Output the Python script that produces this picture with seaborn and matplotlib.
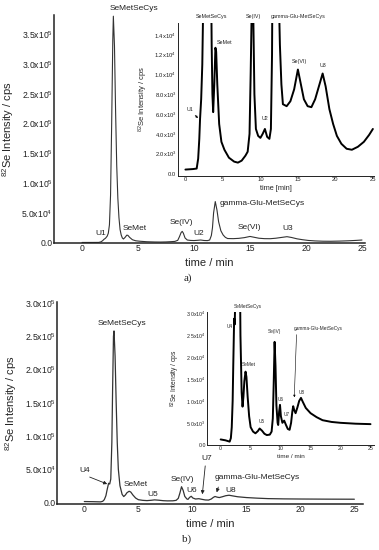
import matplotlib
matplotlib.use('Agg')
import matplotlib.pyplot as plt
import seaborn as sns

# chromatogram a) (time in min, 82Se intensity in cps)
time_a = [0.0, 1.0, 1.5, 1.7, 1.85, 1.95, 2.1, 2.25, 2.35, 2.45, 2.55, 2.65, 2.75, 2.8,
          2.9, 3.0, 3.1, 3.2, 3.3, 3.4, 3.5, 3.6, 3.7, 3.85, 4.0, 4.1, 4.25, 4.5, 4.8,
          5.2, 5.8, 6.5, 7.0, 7.5, 8.0, 8.3, 8.55, 8.7, 8.85, 8.95, 9.05, 9.2, 9.4, 9.7,
          10.0, 10.3, 10.6, 10.9, 11.2, 11.4, 11.55, 11.65, 11.75, 11.9, 12.05, 12.2,
          12.4, 12.6, 12.8, 13.0, 13.5, 14.0, 14.5, 15.0, 15.4, 15.8, 16.3, 16.8, 17.3,
          17.8, 18.3, 18.7, 19.2, 19.7, 20.2, 20.8, 21.5, 22.2, 23.0, 23.8, 24.5, 25.0]
cps_a = [400, 450, 500, 1500, 3500, 5500, 7500, 11000, 16000, 30000, 80000, 200000,
         340000, 380000, 330000, 220000, 130000, 75000, 42000, 22000, 13000, 8000, 6200,
         9000, 12700, 12300, 9000, 5000, 3200, 2400, 1600, 1200, 1100, 1300, 1800, 2200,
         4000, 10000, 17000, 19000, 16000, 8000, 4500, 3800, 3600, 4000, 4500, 3700,
         3500, 4500, 12000, 25000, 50000, 69000, 55000, 35000, 20000, 13000, 9000, 7000,
         6800, 7300, 8500, 10500, 9000, 7500, 6800, 6700, 7500, 8800, 10100, 8800, 6500,
         5000, 3800, 3000, 2500, 2400, 2700, 3200, 3900, 4500]

# chromatogram b)
time_b = [0.0, 0.8, 1.5, 1.7, 1.85, 2.0, 2.1, 2.25, 2.35, 2.45, 2.55, 2.62, 2.7, 2.75,
          2.85, 2.95, 3.05, 3.15, 3.3, 3.5, 3.65, 3.8, 3.95, 4.15, 4.3, 4.5, 4.75, 5.0,
          5.4, 5.8, 6.2, 6.5, 6.9, 7.3, 7.7, 8.2, 8.5, 8.7, 8.85, 9.0, 9.15, 9.3, 9.5,
          9.6, 9.75, 9.9, 10.05, 10.3, 10.6, 10.9, 11.2, 11.5, 11.75, 11.95, 12.1, 12.3,
          12.5, 12.8, 13.1, 13.4, 13.7, 14.2, 15.0, 16.0, 17.0, 18.5, 20.0, 22.5, 25.0]
cps_b = [1200, 1000, 700, 1500, 4000, 10000, 18000, 28800, 27500, 35000, 90000, 170000,
         250000, 258000, 220000, 150000, 90000, 50000, 25000, 12000, 8700, 11000, 14500,
         16700, 15500, 11000, 6500, 4000, 3000, 2600, 3100, 3700, 3200, 2500, 2200, 2300,
         3000, 6000, 14000, 23500, 18000, 9000, 5000, 4500, 7500, 9100, 6500, 5000, 5500,
         4500, 3600, 3400, 5000, 7500, 8800, 7800, 7200, 8500, 10000, 10700, 9800, 8400,
         7200, 6300, 5600, 5200, 5000, 4800, 4700]

time_ticks = [0, 5, 10, 15, 20, 25]
main_a_yticks = [0, 5e4, 1e5, 1.5e5, 2e5, 2.5e5, 3e5, 3.5e5]
main_a_ylabels = ['0.0', '5.0x10$^4$', '1.0x10$^5$', '1.5x10$^5$', '2.0x10$^5$',
                  '2.5x10$^5$', '3.0x10$^5$', '3.5x10$^5$']
inset_a_yticks = [0, 2e3, 4e3, 6e3, 8e3, 1e4, 1.2e4, 1.4e4]
inset_a_ylabels = ['0.0', '2.0x10$^3$', '4.0x10$^3$', '6.0x10$^3$', '8.0x10$^3$',
                   '1.0x10$^4$', '1.2x10$^4$', '1.4x10$^4$']
main_b_yticks = [0, 5e4, 1e5, 1.5e5, 2e5, 2.5e5, 3e5]
main_b_ylabels = ['0.0', '5.0x10$^4$', '1.0x10$^5$', '1.5x10$^5$', '2.0x10$^5$',
                  '2.5x10$^5$', '3.0x10$^5$']
inset_b_yticks = [0, 5e3, 1e4, 1.5e4, 2e4, 2.5e4, 3e4]
inset_b_ylabels = ['0.0', '5.0x10$^3$', '1.0x10$^4$', '1.5x10$^4$', '2.0x10$^4$',
                   '2.5x10$^4$', '3.0x10$^4$']

sns.set_style('white')
plt.rcParams['font.family'] = ['Liberation Sans', 'DejaVu Sans']
plt.rcParams['mathtext.fontset'] = 'custom'
plt.rcParams['mathtext.rm'] = 'Liberation Sans'
plt.rcParams['mathtext.it'] = 'Liberation Sans:italic'

W, H = 379, 550
fig = plt.figure(figsize=(W / 100, H / 100), dpi=100)


def box(l, t, r, b):
    return [l / W, 1 - b / H, (r - l) / W, (b - t) / H]


def style_axes(ax, lw, fs, yticks, ylabels, pad):
    for s in ['top', 'right']:
        ax.spines[s].set_visible(False)
    for s in ['left', 'bottom']:
        ax.spines[s].set_linewidth(lw)
        ax.spines[s].set_color('#222222')
    ax.set_facecolor('none')
    ax.set_xticks(time_ticks)
    ax.set_xticklabels([str(t) for t in time_ticks])
    ax.set_yticks(yticks)
    ax.set_yticklabels(ylabels)
    ax.tick_params(axis='both', direction='in', length=2, width=lw * 0.7,
                   labelsize=fs, pad=pad, colors='#222222')
    ax.grid(False)


ylab = '$^{82}$Se Intensity / cps'

# ---------------- panel a ----------------
ax_a = fig.add_axes(box(54, 15, 365, 243))
sns.lineplot(x=time_a, y=cps_a, ax=ax_a, estimator=None, color='#333333', linewidth=0.8)
ax_a.set_xlim(-2.5, 25.27)
ax_a.set_ylim(-500, 382000)
style_axes(ax_a, 1.1, 6.2, main_a_yticks, main_a_ylabels, 1)
ax_a.set_xlabel('time / min', fontsize=8, labelpad=3)
ax_a.set_ylabel(ylab, fontsize=8, labelpad=4)

for txt, x, y in [('SeMetSeCys', 4.66, 393000), ('U1', 1.7, 14600), ('SeMet', 4.69, 24000),
                  ('Se(IV)', 8.87, 34000), ('U2', 10.45, 14600),
                  ('gamma-Glu-MetSeCys', 16.07, 65000), ('Se(VI)', 14.96, 26000),
                  ('U3', 18.33, 24000)]:
    ax_a.text(x, y, txt, fontsize=6, ha='center', va='center', color='#222222')

fig.text(188 / W, 1 - 278 / H, 'a)', fontsize=8, family='Liberation Serif',
         ha='center', va='center')

ins_a = fig.add_axes(box(177.7, 23, 374, 175.5))
sns.lineplot(x=time_a, y=cps_a, ax=ins_a, estimator=None, color='black', linewidth=1.4)
ins_a.set_xlim(-1.03, 25.15)
ins_a.set_ylim(-200, 15200)
style_axes(ins_a, 0.7, 4.2, inset_a_yticks, inset_a_ylabels, 1)
ins_a.set_xlabel('time [min]', fontsize=5.3, labelpad=2)
ins_a.set_ylabel(ylab, fontsize=5.5, labelpad=3)
for txt, x, y in [('SeMetSeCys', 3.53, 15900), ('SeMet', 5.27, 13200),
                  ('Se(IV)', 9.13, 15900), ('gamma-Glu-MetSeCys', 15.04, 15900),
                  ('Se(VI)', 15.27, 11360), ('U3', 18.37, 10900), ('U2', 10.6, 5600),
                  ('U1', 0.6, 6500)]:
    ins_a.text(x, y, txt, fontsize=3.9, ha='center', va='center', clip_on=False)
ins_a.annotate('', xy=(1.93, 5400), xytext=(1.04, 6080),
               arrowprops=dict(arrowstyle='-|>', lw=0.5, color='black',
                               mutation_scale=3))

# ---------------- panel b ----------------
ax_b = fig.add_axes(box(57.3, 301.7, 363, 504))
sns.lineplot(x=time_b, y=cps_b, ax=ax_b, estimator=None, color='#333333', linewidth=0.9)
ax_b.set_xlim(-2.5, 25.8)
ax_b.set_ylim(-2500, 302000)
style_axes(ax_b, 1.1, 6.2, main_b_yticks, main_b_ylabels, 1)
ax_b.set_xlabel('time / min', fontsize=8, labelpad=3)
ax_b.set_ylabel(ylab, fontsize=8, labelpad=4)
for txt, x, y in [('SeMetSeCys', 3.5, 269600), ('U4', 0.05, 47600), ('SeMet', 4.75, 27000),
                  ('U5', 6.37, 12000), ('Se(IV)', 9.1, 35000), ('U6', 9.9, 17500),
                  ('U7', 11.37, 66000), ('gamma-Glu-MetSeCys', 15.97, 37000),
                  ('U8', 13.54, 18500)]:
    ax_b.text(x, y, txt, fontsize=6, ha='center', va='center', color='#222222')
for tip, start in [((2.36, 26000), (0.26, 39600)), ((10.9, 8000), (11.22, 59000)),
                   ((12.18, 11000), (12.48, 27000))]:
    ax_b.annotate('', xy=tip, xytext=start,
                  arrowprops=dict(arrowstyle='-|>', lw=0.6, color='#222222',
                                  mutation_scale=5))

fig.text(187 / W, 1 - 539 / H, 'b)', fontsize=8, family='Liberation Serif',
         ha='center', va='center')

ins_b = fig.add_axes(box(207.3, 311.7, 373.5, 445))
sns.lineplot(x=time_b, y=cps_b, ax=ins_b, estimator=None, color='black', linewidth=1.4)
ins_b.set_xlim(-2.23, 25.5)
ins_b.set_ylim(-70, 30400)
style_axes(ins_b, 0.7, 3.8, inset_b_yticks, inset_b_ylabels, 1)
ins_b.set_xlabel('time / min', fontsize=4.6, labelpad=2)
ins_b.set_ylabel(ylab, fontsize=4.8, labelpad=3)
for txt, x, y in [('U4', 1.55, 27100), ('SeMetSeCys', 4.47, 31500), ('SeMet', 4.77, 18400),
                  ('U5', 6.83, 5200), ('Se(IV)', 9.05, 25900), ('U6', 10.0, 10400),
                  ('U7', 11.0, 6800), ('gamma-Glu-MetSeCys', 16.2, 26500),
                  ('U8', 13.6, 11900)]:
    ins_b.text(x, y, txt, fontsize=3.4, ha='center', va='center', clip_on=False)
ins_b.annotate('', xy=(12.27, 10200), xytext=(12.67, 25800),
               arrowprops=dict(arrowstyle='-|>', lw=0.4, color='black',
                               mutation_scale=3))

fig.savefig('out.png', dpi=100)
